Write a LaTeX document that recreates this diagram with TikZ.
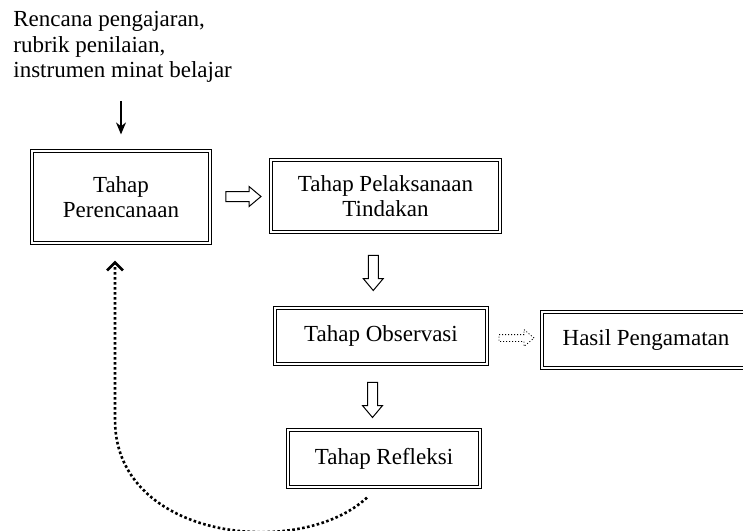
\documentclass[tikz,border=0pt]{standalone}
\usepackage{fontspec}
\setmainfont{Liberation Serif}
\usepackage{tikz}
\usetikzlibrary{calc, positioning, shapes.arrows, arrows.meta}

\begin{document}
\begin{tikzpicture}[font=\fontsize{11.5}{12.75}\selectfont,
                    box node/.style={draw,double,line width=0.6pt,double distance=0.8pt,align=center,inner sep=2pt},
                    big arrow/.style={draw,single arrow,line width=0.5pt,inner sep=2.25pt,minimum height=17.5pt,
                                      single arrow head extend=2.5pt,single arrow tip angle=80,single arrow head indent=0pt},
                    small arrow/.style={big arrow,densely dotted,line width=0.4pt,inner sep=1.5pt,single arrow head extend=2.5pt}]

  \useasboundingbox (0,0) rectangle (371.5pt,-265pt);

  \node[align=left,anchor=north west,inner sep=0pt] (bahan) at (6.5pt,-5.5pt)
    {Rencana pengajaran,\\rubrik penilaian,\\instrumen minat belajar};

  \node[box node,minimum width=89pt,minimum height=46pt] (perencanaan) at (60.5pt,-98.5pt) {Tahap\\Perencanaan};
  \node[box node,minimum width=114.5pt,minimum height=36pt] (pelaksanaan) at (192.75pt,-98pt) {Tahap Pelaksanaan\\Tindakan};
  \node[box node,minimum width=106pt,minimum height=28pt] (observasi) at (190.5pt,-168pt) {Tahap Observasi};
  \node[box node,minimum width=104pt,minimum height=28pt] (hasil) at (323pt,-170pt) {Hasil Pengamatan};
  \node[box node,minimum width=96pt,minimum height=28.5pt] (refleksi) at (192pt,-229.25pt) {Tahap Refleksi};

  % panah antar tahap
  \node[big arrow] (a1) at ($(perencanaan.east)!0.5!(pelaksanaan.west)$) {};
  \node[big arrow,rotate=-90] (a2) at ($(pelaksanaan.south)!0.5!(observasi.north)+(-5pt,0)$) {};
  \node[big arrow,rotate=-90] (a3) at ($(observasi.south)!0.5!(refleksi.north)+(-5pt,0)$) {};
  \node[small arrow] (a4) at ($(observasi.east)!0.5!(hasil.west)$) {};

  \draw[line width=0.6pt,-{Stealth[length=6pt,width=5pt]}]
    ([yshift=-9pt]bahan.south -| perencanaan.north) -- ([yshift=8pt]perencanaan.north);

  % siklus kembali
  \coordinate (awal) at ([xshift=-8.5pt,yshift=-5pt]refleksi.south);
  \coordinate (ujung) at ([xshift=-3pt,yshift=-8.5pt]perencanaan.south);
  \draw[line width=1.3pt,dash pattern=on 1.3pt off 1.2pt,-{Straight Barb[length=4pt,width=8pt]}]
    (awal) .. controls (150pt,-280pt) and (57.5pt,-270pt) .. (57.5pt,-210pt) -- (ujung);

\end{tikzpicture}
\end{document}
